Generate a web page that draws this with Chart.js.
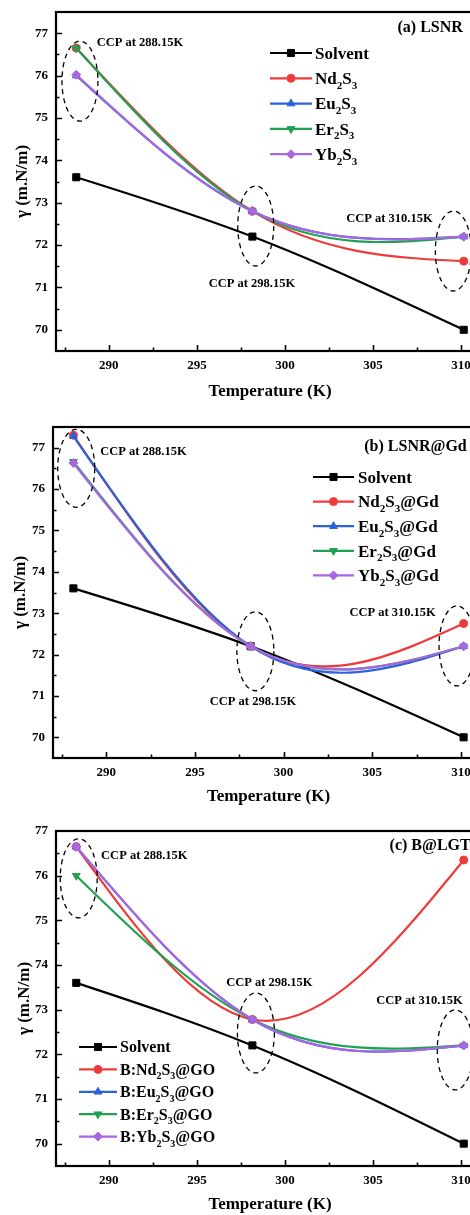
<!DOCTYPE html>
<html>
<head>
<meta charset="utf-8">
<title>Surface tension vs temperature</title>
<script src="https://cdn.jsdelivr.net/npm/chart.js@4.4.1/dist/chart.umd.min.js"></script>
<style>
  html, body { margin: 0; padding: 0; width: 470px; height: 1215px; overflow: hidden; background: #fff; position: relative; }
  .panel { position: absolute; left: 0; width: 500px; }
  .panel canvas { display: block; }
</style>
</head>
<body>
<div class="panel" style="top:-10px;height:415px"><canvas id="panelA" width="500" height="415"></canvas></div>
<div class="panel" style="top:405px;height:405px"><canvas id="panelB" width="500" height="405"></canvas></div>
<div class="panel" style="top:810px;height:405px"><canvas id="panelC" width="500" height="405"></canvas></div>

<script>
// ---- data -------------------------------------------------------------
const temperatureK = [288.15, 298.15, 310.15];
const xTickValues = [290, 295, 300, 305, 310];
const yTickValues = [70, 71, 72, 73, 74, 75, 76, 77];
const ccpLabels = ['CCP at 288.15K', 'CCP at 298.15K', 'CCP at 310.15K'];

// (a) LSNR
const lsnrNames = ['Solvent', 'Nd₂S₃', 'Eu₂S₃', 'Er₂S₃', 'Yb₂S₃'];
const lsnrSolvent = [73.6, 72.2, 70.0];
const lsnrNd = [76.65, 72.8, 71.62];
const lsnrEu = [76.0, 72.8, 72.2];
const lsnrEr = [76.65, 72.8, 72.2];
const lsnrYb = [76.02, 72.8, 72.2];

// (b) LSNR@Gd
const gdNames = ['Solvent', 'Nd₂S₃@Gd', 'Eu₂S₃@Gd', 'Er₂S₃@Gd', 'Yb₂S₃@Gd'];
const gdSolvent = [73.6, 72.2, 70.0];
const gdNd = [77.3, 72.2, 72.75];
const gdEu = [77.28, 72.2, 72.2];
const gdEr = [76.66, 72.2, 72.2];
const gdYb = [76.63, 72.2, 72.2];

// (c) B@LGT
const goNames = ['Solvent', 'B:Nd₂S₃@GO', 'B:Eu₂S₃@GO', 'B:Er₂S₃@GO', 'B:Yb₂S₃@GO'];
const goSolvent = [73.6, 72.2, 70.0];
const goNd = [76.65, 72.78, 76.35];
const goEu = [76.65, 72.78, 72.2];
const goEr = [76.0, 72.78, 72.2];
const goYb = [76.65, 72.78, 72.2];

// ---- styling ----------------------------------------------------------
const SERIF = "'Liberation Serif', 'Times New Roman', serif";
const seriesColors = ['#000000', '#f03a3a', '#2a62dc', '#22a052', '#a866e2'];
const seriesMarkers = [
  { pointStyle: 'rect', radius: 5, rotation: 0 },
  { pointStyle: 'circle', radius: 4, rotation: 0 },
  { pointStyle: 'triangle', radius: 4.5, rotation: 0 },
  { pointStyle: 'triangle', radius: 4.5, rotation: 180 },
  { pointStyle: 'rectRot', radius: 4.5, rotation: 0 }
];

Chart.defaults.font.family = SERIF;
Chart.defaults.font.weight = 'bold';
Chart.defaults.color = '#000';

// draws a marker using Chart.js's own point renderer
function marker(ctx, style, x, y, color) {
  ctx.save();
  ctx.fillStyle = color;
  ctx.strokeStyle = color;
  ctx.lineWidth = 1;
  Chart.helpers.drawPoint(ctx, { pointStyle: style.pointStyle, rotation: style.rotation, radius: style.radius, borderWidth: 1 }, x, y);
  ctx.restore();
}

// writes a label, shrinking and lowering Unicode subscript digits
function richText(ctx, text, x, baseline, size) {
  const subSize = Math.round(size * 0.62);
  let cx = x;
  for (const ch of text) {
    const code = ch.codePointAt(0);
    if (code >= 0x2080 && code <= 0x2089) {
      const digit = String(code - 0x2080);
      ctx.font = `bold ${subSize}px ${SERIF}`;
      ctx.fillText(digit, cx, baseline + size * 0.28);
      cx += ctx.measureText(digit).width;
    } else {
      ctx.font = `bold ${size}px ${SERIF}`;
      ctx.fillText(ch, cx, baseline);
      cx += ctx.measureText(ch).width;
    }
  }
}

// Replaces the default bezier handles of each line with those of a
// natural cubic spline y(x) through the measured points.
const naturalSpline = {
  id: 'naturalSpline',
  beforeDatasetsDraw(chart) {
    chart.getSortedVisibleDatasetMetas().forEach(meta => {
      const pts = meta.data;
      const n = pts.length;
      if (n < 3) return;
      const X = pts.map(p => p.x), Y = pts.map(p => p.y);
      const h = [], d = [];
      for (let i = 0; i < n - 1; i++) { h.push(X[i + 1] - X[i]); d.push((Y[i + 1] - Y[i]) / h[i]); }
      // tridiagonal system for the interior second derivatives
      const M = new Array(n).fill(0);
      const a = [], b = [], c = [], r = [];
      for (let i = 1; i < n - 1; i++) {
        a.push(h[i - 1]); b.push(2 * (h[i - 1] + h[i])); c.push(h[i]); r.push(6 * (d[i] - d[i - 1]));
      }
      const m = b.length;
      for (let i = 1; i < m; i++) {
        const w = a[i] / b[i - 1];
        b[i] -= w * c[i - 1];
        r[i] -= w * r[i - 1];
      }
      for (let i = m - 1; i >= 0; i--) {
        M[i + 1] = (r[i] - (i < m - 1 ? c[i] * M[i + 2] : 0)) / b[i];
      }
      for (let i = 0; i < n - 1; i++) {
        const sL = d[i] - h[i] * (2 * M[i] + M[i + 1]) / 6;
        const sR = d[i] + h[i] * (M[i] + 2 * M[i + 1]) / 6;
        pts[i].cp2x = X[i] + h[i] / 3;
        pts[i].cp2y = Y[i] + sL * h[i] / 3;
        pts[i + 1].cp1x = X[i + 1] - h[i] / 3;
        pts[i + 1].cp1y = Y[i + 1] - sR * h[i] / 3;
      }
      pts[0].cp1x = X[0]; pts[0].cp1y = Y[0];
      pts[n - 1].cp2x = X[n - 1]; pts[n - 1].cp2y = Y[n - 1];
      meta.dataset._pointsUpdated = true;
      meta.dataset._path = undefined;
    });
  }
};

// frame, inward ticks, dashed ellipses, notes and the legend
const panelDecor = {
  id: 'panelDecor',
  afterDatasetsDraw(chart, args, opts) {
    const { ctx, chartArea: a } = chart;
    const xs = chart.scales.x, ys = chart.scales.y;
    ctx.save();

    // inward ticks
    ctx.strokeStyle = '#000';
    ctx.lineWidth = 1.6;
    ctx.beginPath();
    for (let v = Math.ceil(xs.min / 2.5) * 2.5; v <= xs.max; v += 2.5) {
      const px = Math.round(xs.getPixelForValue(v)) + 0.5;
      if (px <= a.left + 1 || px >= a.right - 1) continue;
      const len = (Math.abs(v % 5) < 1e-6) ? 6 : 3.5;
      ctx.moveTo(px, a.bottom);
      ctx.lineTo(px, a.bottom - len);
    }
    for (let v = Math.ceil(ys.min / 0.5) * 0.5; v <= ys.max; v += 0.5) {
      const py = Math.round(ys.getPixelForValue(v)) + 0.5;
      if (py <= a.top + 1 || py >= a.bottom - 1) continue;
      const len = (Math.abs(v - Math.round(v)) < 1e-6) ? 6 : 3.5;
      ctx.moveTo(a.left, py);
      ctx.lineTo(a.left + len, py);
    }
    ctx.stroke();

    // plot frame
    ctx.lineWidth = 2.2;
    ctx.strokeRect(a.left, a.top, a.right - a.left, a.bottom - a.top);

    // dashed ellipses around the crossing points
    ctx.lineWidth = 1.3;
    ctx.setLineDash([5, 4]);
    for (const e of opts.ellipses) {
      ctx.beginPath();
      ctx.ellipse(xs.getPixelForValue(e.x), ys.getPixelForValue(e.y), e.rx, e.ry, 0, 0, Math.PI * 2);
      ctx.stroke();
    }
    ctx.setLineDash([]);

    // notes
    ctx.fillStyle = '#000';
    ctx.textAlign = 'left';
    ctx.textBaseline = 'middle';
    for (const n of opts.notes) {
      ctx.font = `bold ${n.size}px ${SERIF}`;
      ctx.fillText(n.text, xs.getPixelForValue(n.x), ys.getPixelForValue(n.y));
    }

    // legend
    const L = opts.legend;
    ctx.textBaseline = 'alphabetic';
    chart.data.datasets.forEach((ds, i) => {
      const y = a.top + L.top + i * L.spacing;
      const x0 = a.left + L.left;
      ctx.strokeStyle = ds.borderColor;
      ctx.lineWidth = 2.2;
      ctx.beginPath();
      ctx.moveTo(x0, y);
      ctx.lineTo(x0 + L.lineLen, y);
      ctx.stroke();
      marker(ctx, seriesMarkers[i], x0 + L.lineLen / 2, y, ds.borderColor);
      ctx.fillStyle = '#000';
      richText(ctx, ds.label, x0 + L.lineLen + L.gap, y + L.size * 0.34, L.size);
    });

    ctx.restore();
  }
};

function buildPanel(canvasId, p) {
  const canvas = document.getElementById(canvasId);
  const datasets = p.names.map((name, i) => ({
    label: name,
    data: temperatureK.map((t, k) => ({ x: t, y: p.values[i][k] })),
    borderColor: seriesColors[i],
    backgroundColor: seriesColors[i],
    borderWidth: 2.2,
    pointStyle: seriesMarkers[i].pointStyle,
    pointRotation: seriesMarkers[i].rotation,
    pointRadius: seriesMarkers[i].radius,
    pointBorderWidth: 1,
    tension: 0.4,
    order: p.names.length - i
  }));

  return new Chart(canvas, {
    type: 'line',
    data: { datasets },
    options: {
      responsive: false,
      animation: false,
      devicePixelRatio: 1,
      layout: { padding: { top: p.area.top, right: 16, left: 0, bottom: 0 } },
      plugins: {
        legend: { display: false },
        tooltip: { enabled: false },
        panelDecor: { ellipses: p.ellipses, notes: p.notes, legend: p.legend }
      },
      scales: {
        x: {
          type: 'linear',
          min: 287, max: 311.3,
          afterBuildTicks: s => { s.ticks = xTickValues.map(v => ({ value: v })); },
          afterFit: s => { s.height = canvas.height - p.area.bottom; },
          grid: { display: false, drawTicks: false },
          border: { display: false },
          ticks: { font: { size: 13, weight: 'bold' }, padding: 7, maxRotation: 0 },
          title: { display: true, text: 'Temperature (K)', font: { size: 17, weight: 'bold' }, padding: { top: 0, bottom: p.xTitlePad } }
        },
        y: {
          type: 'linear',
          min: 69.5, max: p.yMax,
          afterBuildTicks: s => { s.ticks = yTickValues.map(v => ({ value: v })); },
          afterFit: s => { s.width = p.area.left; },
          grid: { display: false, drawTicks: false },
          border: { display: false },
          ticks: { font: { size: 13, weight: 'bold' }, padding: 8 },
          title: { display: true, text: 'γ (m.N/m)', font: { size: 17, weight: 'bold' }, padding: { top: p.yTitlePad, bottom: 0 } }
        }
      }
    },
    plugins: [naturalSpline, panelDecor]
  });
}

buildPanel('panelA', {
  names: lsnrNames,
  values: [lsnrSolvent, lsnrNd, lsnrEu, lsnrEr, lsnrYb],
  yMax: 77.5,
  area: { left: 56, top: 22, bottom: 361 },
  xTitlePad: 3, yTitlePad: 12,
  ellipses: [
    { x: 288.36, y: 75.87, rx: 18, ry: 40 },
    { x: 298.34, y: 72.45, rx: 18, ry: 40 },
    { x: 309.56, y: 71.86, rx: 18, ry: 40 }
  ],
  notes: [
    { text: ccpLabels[0], x: 289.31, y: 76.77, size: 12.5 },
    { text: ccpLabels[1], x: 295.67, y: 71.08, size: 12.5 },
    { text: ccpLabels[2], x: 303.48, y: 72.63, size: 12.5 },
    { text: '(a) LSNR', x: 306.39, y: 77.13, size: 16 }
  ],
  legend: { left: 214, top: 41, spacing: 25.3, lineLen: 42, gap: 3, size: 17 }
});

buildPanel('panelB', {
  names: gdNames,
  values: [gdSolvent, gdNd, gdEu, gdEr, gdYb],
  yMax: 77.5,
  area: { left: 53, top: 22, bottom: 353 },
  xTitlePad: 3, yTitlePad: 10,
  ellipses: [
    { x: 288.31, y: 76.5, rx: 18.5, ry: 39 },
    { x: 298.41, y: 72.08, rx: 18.5, ry: 39.5 },
    { x: 309.78, y: 72.21, rx: 18, ry: 40 }
  ],
  notes: [
    { text: ccpLabels[0], x: 289.66, y: 76.89, size: 12.5 },
    { text: ccpLabels[1], x: 295.84, y: 70.85, size: 12.5 },
    { text: ccpLabels[2], x: 303.71, y: 73.0, size: 12.5 },
    { text: '(b) LSNR@Gd', x: 304.55, y: 77.01, size: 16 }
  ],
  legend: { left: 260, top: 50, spacing: 24.6, lineLen: 41, gap: 4, size: 17 }
});

buildPanel('panelC', {
  names: goNames,
  values: [goSolvent, goNd, goEu, goEr, goYb],
  yMax: 77,
  area: { left: 56, top: 21, bottom: 356 },
  xTitlePad: 0, yTitlePad: 14,
  ellipses: [
    { x: 288.29, y: 75.94, rx: 18.5, ry: 39.5 },
    { x: 298.35, y: 72.48, rx: 18.5, ry: 40 },
    { x: 309.67, y: 72.1, rx: 18, ry: 40 }
  ],
  notes: [
    { text: ccpLabels[0], x: 289.56, y: 76.45, size: 12.5 },
    { text: ccpLabels[1], x: 296.66, y: 73.6, size: 12.5 },
    { text: ccpLabels[2], x: 305.18, y: 73.19, size: 12.5 },
    { text: '(c) B@LGT', x: 305.94, y: 76.67, size: 16 }
  ],
  legend: { left: 23, top: 216, spacing: 22.4, lineLen: 38, gap: 3, size: 16 }
});
</script>
</body>
</html>
